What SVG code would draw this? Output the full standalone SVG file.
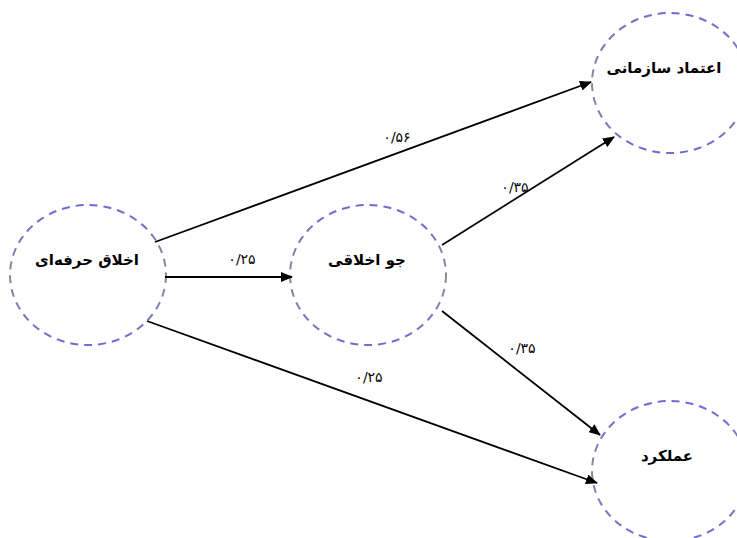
<svg xmlns="http://www.w3.org/2000/svg" width="737" height="538" viewBox="0 0 737 538">
<defs>
<linearGradient id="ring" x1="0" y1="0" x2="0" y2="1">
<stop offset="0" stop-color="#6b6bd6"/>
<stop offset="0.5" stop-color="#8a8a98"/>
<stop offset="1" stop-color="#6b6bd6"/>
</linearGradient>
<marker id="ah" viewBox="0 0 12 10" refX="11" refY="5" markerWidth="12" markerHeight="10" markerUnits="userSpaceOnUse" orient="auto">
<path d="M0,0 L12,5 L0,10 Z" fill="#000"/>
</marker>
</defs>
<style>
.node ellipse{fill:#fff;stroke:url(#ring);stroke-width:2;stroke-dasharray:8 6}
.node text{font-family:"DejaVu Sans",sans-serif;font-weight:bold;font-size:15px;fill:#000;text-anchor:middle}
.edge{stroke:#000;stroke-width:1.8;fill:none;marker-end:url(#ah)}
.lbl{font-family:"DejaVu Sans",sans-serif;font-size:14px;fill:#000;text-anchor:middle}
</style>
<rect width="737" height="538" fill="#fff"/>
<g id="n1" class="node">
<ellipse cx="88" cy="275" rx="78" ry="70"/>
<text x="87" y="265">اخلاق حرفه‌ای</text>
</g>
<g id="n2" class="node">
<ellipse cx="368" cy="275" rx="78" ry="70"/>
<text x="367" y="265">جو اخلاقی</text>
</g>
<g id="n3" class="node">
<ellipse cx="670" cy="83" rx="78" ry="70"/>
<text x="664" y="73">اعتماد سازمانی</text>
</g>
<g id="n4" class="node">
<ellipse cx="670" cy="471" rx="78" ry="70"/>
<text x="667" y="461">عملکرد</text>
</g>
<g id="connectors">
<line class="edge" x1="155" y1="242" x2="591" y2="82"/>
<line class="edge" x1="165" y1="277" x2="292" y2="277"/>
<line class="edge" x1="442" y1="245" x2="614" y2="137"/>
<line class="edge" x1="442" y1="311" x2="600" y2="435"/>
<line class="edge" x1="147" y1="321" x2="597" y2="483"/>
<text class="lbl" x="397" y="142">۰/۵۶</text>
<text class="lbl" x="242" y="264">۰/۲۵</text>
<text class="lbl" x="515" y="192">۰/۳۵</text>
<text class="lbl" x="522" y="353">۰/۳۵</text>
<text class="lbl" x="369" y="382">۰/۲۵</text>
</g>
</svg>
